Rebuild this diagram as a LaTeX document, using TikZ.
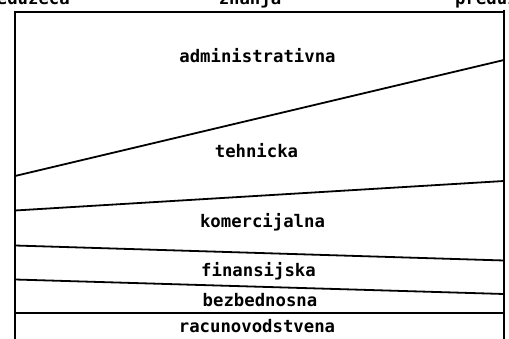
\documentclass[tikz,border=0pt]{standalone}
\usepackage{fontspec}
\setmonofont{DejaVu Sans Mono}
\begin{document}
\begin{tikzpicture}[x=1pt,y=-1pt,
  lbl/.style={font=\ttfamily\bfseries\fontsize{17.3}{20}\selectfont, inner sep=0pt, anchor=base},
  frame/.style={line width=2.2pt},
  divider/.style={line width=1.8pt}]
\useasboundingbox (0,0) rectangle (509,339);
\clip (0,0) rectangle (509,339);
\fill[white] (0,0) rectangle (509,339);

% headings above the frame
\node[lbl, anchor=base east] (hleft) at (70,5) {preduzeca};
\node[lbl] (hmid) at (250,5) {znanja};
\node[lbl, anchor=base west] (hright) at (455,5) {preduzeca};

% outer frame (open at the bottom)
\coordinate (tl) at (15,12);
\coordinate (tr) at (504,12);
\coordinate (bl) at (15,345);
\coordinate (br) at (504,345);
\draw[frame] (bl) -- (tl) -- (tr);
\draw[frame] (504,10) -- (br);

% band dividers
\draw[divider] (15,176) -- (504,60);
\draw[divider] (15,210.5) -- (504,181);
\draw[divider] (15,245.5) -- (504,260.5);
\draw[divider] (15,279.5) -- (504,294);
\draw[divider] (15,313) -- (504,313);

% band labels
\node[lbl] (adm) at (257.5,63) {administrativna};
\node[lbl] (teh) at (256.5,158) {tehnicka};
\node[lbl] (kom) at (262.5,228) {komercijalna};
\node[lbl] (fin) at (258.5,277) {finansijska};
\node[lbl] (bez) at (260,306.5) {bezbednosna};
\node[lbl] (rac) at (257,332) {racunovodstvena};
\end{tikzpicture}
\end{document}
